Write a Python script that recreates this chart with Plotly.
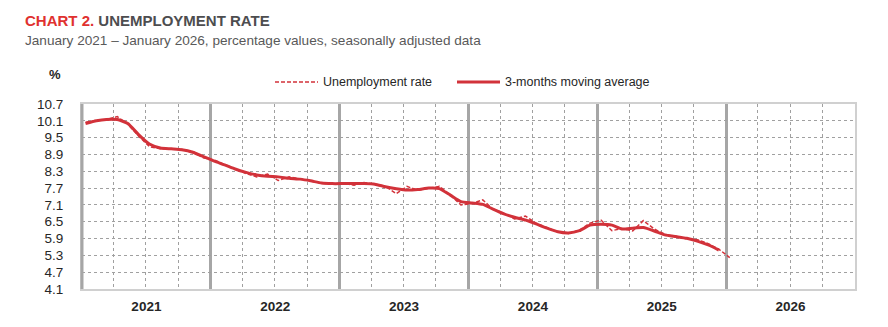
import pandas as pd
import plotly.graph_objects as go

# ---- data ----
months = pd.date_range("2021-01-01", periods=61, freq="MS") + pd.Timedelta(days=10)

unemployment_rate = [
    10.05, 10.12, 10.15, 10.25, 9.98, 9.55, 9.18, 9.10, 9.10, 9.08, 9.00, 8.78,   # 2021
    8.70, 8.52, 8.38, 8.22, 8.10, 8.20, 7.97, 8.10, 8.02, 7.95, 7.88, 7.85,       # 2022
    7.88, 7.80, 7.90, 7.84, 7.76, 7.50, 7.76, 7.62, 7.68, 7.76, 7.45, 7.10,       # 2023
    7.15, 7.28, 6.95, 6.80, 6.60, 6.70, 6.45, 6.28, 6.13, 6.08, 6.20, 6.45,       # 2024
    6.56, 6.18, 6.26, 6.17, 6.54, 6.24, 6.05, 5.97, 5.90, 5.86, 5.72, 5.52,       # 2025
    5.22,                                                                         # 2026
]

moving_average = [
    10.00, 10.10, 10.15, 10.15, 10.00, 9.60, 9.27, 9.13, 9.10, 9.07, 8.98, 8.82,
    8.66, 8.52, 8.38, 8.26, 8.17, 8.12, 8.10, 8.05, 8.02, 7.96, 7.88, 7.86,
    7.86, 7.86, 7.86, 7.84, 7.75, 7.68, 7.63, 7.65, 7.70, 7.68, 7.45, 7.22,
    7.17, 7.12, 6.95, 6.78, 6.66, 6.56, 6.42, 6.27, 6.14, 6.10, 6.18, 6.38,
    6.41, 6.38, 6.24, 6.27, 6.29, 6.17, 6.03, 5.97, 5.91, 5.81, 5.67, 5.49,
    None,
]

y_ticks = [4.1, 4.7, 5.3, 5.9, 6.5, 7.1, 7.7, 8.3, 8.9, 9.5, 10.1, 10.7]

title_red = "CHART 2."
title_rest = "UNEMPLOYMENT RATE"
subtitle = "January 2021 \u2013 January 2026, percentage values, seasonally adjusted data"
legend_names = ["Unemployment rate", "3-months moving average"]

# ---- styling ----
RED = "#d2323a"
FONT = "Liberation Sans Narrow, Arial Narrow, Liberation Sans, Arial, sans-serif"
W, H = 888, 327
L, R, T, B = 82, 33, 104, 38
PW, PH = W - L - R, H - T - B

def px(x):
    return (x - L) / PW

def py(y):
    return (H - B - y) / PH

fig = go.Figure()
fig.add_trace(go.Scatter(x=months, y=moving_average, mode="lines",
                         line=dict(color=RED, width=3, shape="spline", smoothing=0.5),
                         name=legend_names[1], showlegend=False, connectgaps=False))
fig.add_trace(go.Scatter(x=months, y=unemployment_rate, mode="lines",
                         line=dict(color=RED, width=1.5, dash="4px,2px"),
                         name=legend_names[0], showlegend=False))

fig.update_layout(
    width=W, height=H,
    margin=dict(l=L, r=R, t=T, b=B, pad=0),
    paper_bgcolor="white", plot_bgcolor="white",
    font=dict(family=FONT, color="#262626", size=13),
    xaxis=dict(
        type="date",
        range=["2021-01-01", "2027-01-01"],
        tick0="2021-01-01", dtick="M12",
        ticklabelmode="period", tickformat="%Y",
        tickfont=dict(family=FONT, size=13.5, color="#262626", weight="bold"),
        ticks="", ticklabelstandoff=4,
        showgrid=True, gridcolor="#a6a6a6", gridwidth=3,
        minor=dict(dtick="M3", tick0="2021-01-01", showgrid=True,
                   gridcolor="#a0a0a0", gridwidth=1, griddash="dot"),
        showline=True, linecolor="#d0d0d0", linewidth=2, mirror=True,
        zeroline=False,
    ),
    yaxis=dict(
        range=[4.1, 10.7],
        tickvals=y_ticks, ticktext=[f"{v:.1f}" for v in y_ticks],
        tickfont=dict(family=FONT, size=13.5, color="#262626"),
        ticks="", ticklabelstandoff=14,
        showgrid=True, gridcolor="#a0a0a0", gridwidth=1, griddash="dot",
        showline=True, linecolor="#d0d0d0", linewidth=2, mirror=True,
        zeroline=False,
    ),
)

# left thick axis line
fig.add_shape(type="line", xref="paper", yref="paper", x0=0, x1=0, y0=0, y1=1,
              line=dict(color="#a6a6a6", width=3))

# legend (manual)
ly = py(82)
fig.add_shape(type="line", xref="paper", yref="paper", x0=px(275), x1=px(318), y0=ly, y1=ly,
              line=dict(color=RED, width=1.5, dash="4px,2px"))
fig.add_shape(type="line", xref="paper", yref="paper", x0=px(457), x1=px(500), y0=ly, y1=ly,
              line=dict(color=RED, width=3))
fig.add_annotation(xref="paper", yref="paper", x=px(321), y=ly, xanchor="left", yanchor="middle",
                   text=legend_names[0], showarrow=False, font=dict(family=FONT, size=12.5, color="#262626"))
fig.add_annotation(xref="paper", yref="paper", x=px(503), y=ly, xanchor="left", yanchor="middle",
                   text=legend_names[1], showarrow=False, font=dict(family=FONT, size=12.5, color="#262626"))

# % label
fig.add_annotation(xref="paper", yref="paper", x=px(55), y=py(74), xanchor="center", yanchor="middle",
                   text="%", showarrow=False, font=dict(family=FONT, size=13, color="#262626", weight="bold"))

# titles
fig.add_annotation(xref="paper", yref="paper", x=px(23), y=py(21), xanchor="left", yanchor="middle",
                   text=f"<span style='color:#e0312f'><b>{title_red}</b></span> <b>{title_rest}</b>",
                   showarrow=False, font=dict(family=FONT, size=15, color="#4d4d4f"))
fig.add_annotation(xref="paper", yref="paper", x=px(23), y=py(41), xanchor="left", yanchor="middle",
                   text=subtitle, showarrow=False, font=dict(family=FONT, size=13.6, color="#595959"))

fig.write_html("out.html")
